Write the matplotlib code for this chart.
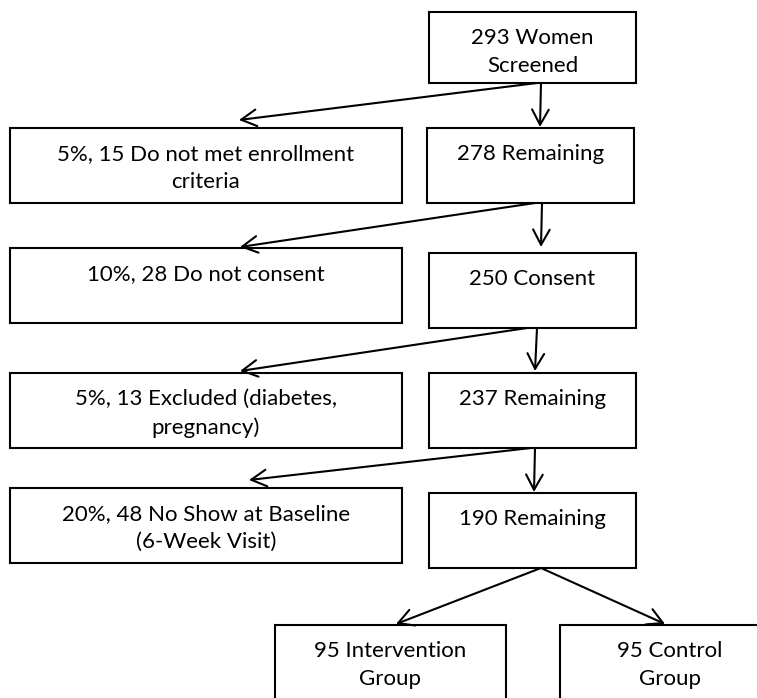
import matplotlib.pyplot as plt
from matplotlib.patches import Rectangle

plt.rcParams['font.family'] = ['Lato', 'DejaVu Sans']

# flow counts
screened = 293
not_met = 15
remaining_1 = 278
no_consent = 28
consent = 250
excluded = 13
remaining_2 = 237
no_show = 48
remaining_3 = 190
intervention = 95
control = 95

# box labels
labels = [
    "%d Women\nScreened" % screened,
    "5%%, %d Do not met enrollment\ncriteria" % not_met,
    "%d Remaining" % remaining_1,
    "10%%, %d Do not consent" % no_consent,
    "%d Consent" % consent,
    "5%%, %d Excluded (diabetes,\npregnancy)" % excluded,
    "%d Remaining" % remaining_2,
    "20%%, %d No Show at Baseline\n(6-Week Visit)" % no_show,
    "%d Remaining" % remaining_3,
    "%d Intervention\nGroup" % intervention,
    "%d Control\nGroup" % control,
]

# layout in pixels: left, top, right, bottom
boxes = [
    (429, 12, 636, 83),
    (10, 128, 402, 203),
    (427, 128, 634, 203),
    (10, 248, 402, 323),
    (429, 253, 636, 328),
    (10, 373, 402, 448),
    (429, 373, 636, 448),
    (10, 488, 402, 563),
    (429, 493, 636, 568),
    (275, 625, 506, 720),
    (560, 625, 780, 720),
]

# arrows: start, end in pixels
arrows = [
    ((537, 83), (239, 120)),
    ((541, 83), (540, 127)),
    ((535, 203), (240, 247)),
    ((542, 203), (541, 247)),
    ((527, 328), (240, 371)),
    ((537, 328), (535, 371)),
    ((531, 448), (249, 480)),
    ((535, 448), (534, 492)),
    ((541, 568), (396, 624)),
    ((541, 568), (665, 624)),
]

fig = plt.figure(figsize=(7.57, 6.98), dpi=100)
ax = fig.add_axes([0, 0, 1, 1])
ax.set_xlim(0, 757)
ax.set_ylim(698, 0)
ax.axis('off')

for (l, t, r, b), text in zip(boxes, labels):
    ax.add_patch(Rectangle((l, t), r - l, b - t, facecolor='white',
                           edgecolor='black', linewidth=1.5))
    ax.text((l + r) / 2, t + 16, text, ha='center', va='top',
            fontsize=16, linespacing=1.5, color='black')

for (x0, y0), (x1, y1) in arrows:
    ax.annotate('', xy=(x1, y1), xytext=(x0, y0),
                arrowprops=dict(arrowstyle='->,head_length=0.55,head_width=0.3',
                                mutation_scale=20, lw=1.5, color='black',
                                shrinkA=0, shrinkB=0))

plt.savefig("out.png", dpi=100)
